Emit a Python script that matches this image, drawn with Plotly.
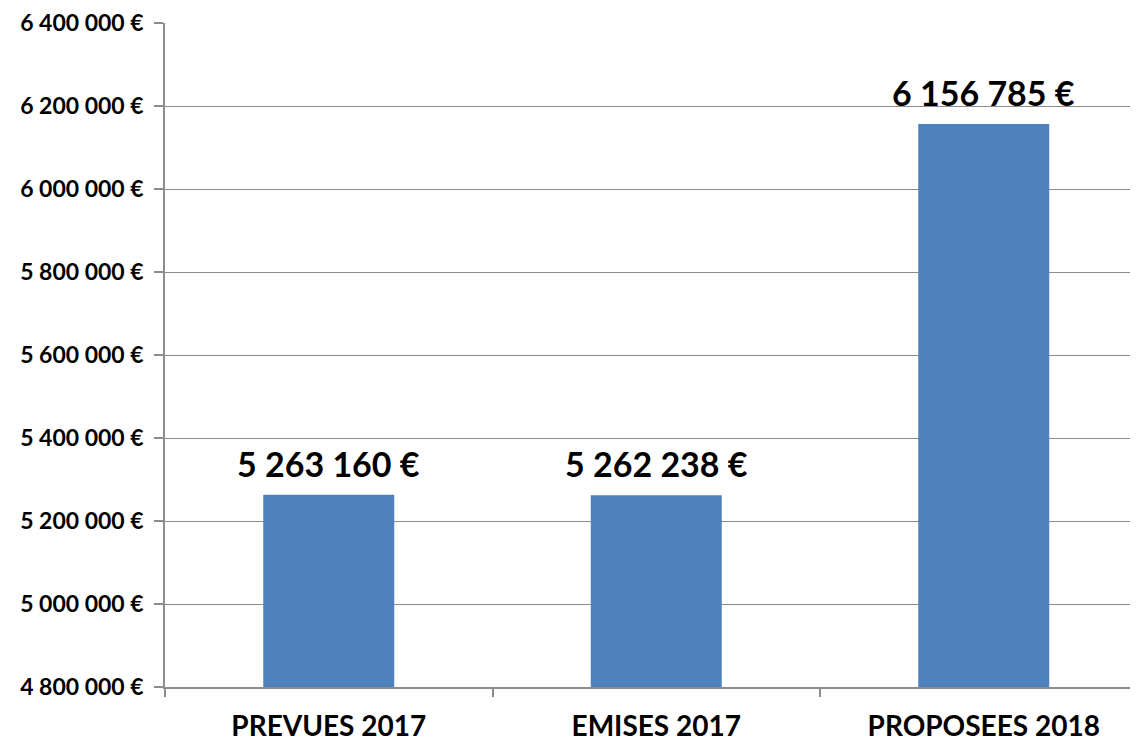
import plotly.graph_objects as go

categories = ["PREVUES 2017", "EMISES 2017", "PROPOSEES 2018"]
values = [5263160, 5262238, 6156785]
y_ticks = [4800000, 5000000, 5200000, 5400000, 5600000, 5800000, 6000000, 6200000, 6400000]

def fmt(v):
    return f"{v:,}".replace(",", " ") + " €"

FONT = "Lato, Carlito, 'Liberation Sans', sans-serif"
BAR = "#4F81BD"
GRID = "#8C8C8C"

fig = go.Figure(go.Bar(
    x=categories, y=values, width=0.4,
    marker=dict(color=BAR, line=dict(width=0)),
    hovertemplate="%{x}: %{y}<extra></extra>",
))

for c, v in zip(categories, values):
    fig.add_annotation(
        x=c, y=v, text=fmt(v), showarrow=False, yanchor="bottom", yshift=9,
        font=dict(family=FONT, size=34, color="black", weight="bold"),
    )

# page body has an 8px default margin, so the figure is shifted by 8px
fig.update_layout(
    width=1130, height=734,
    margin=dict(l=157, r=0, t=15, b=50),
    plot_bgcolor="white", paper_bgcolor="white",
    showlegend=False,
    font=dict(family=FONT, color="black"),
)
fig.update_xaxes(
    range=[-0.5, 2.471], showline=True, linecolor=GRID, linewidth=1.5,
    ticks="outside", tickson="boundaries", ticklen=8, tickcolor=GRID, tickwidth=1.5,
    tickfont=dict(family=FONT, size=28, color="black", weight="bold"),
    ticklabelstandoff=14, showgrid=False,
)
fig.update_yaxes(
    range=[4800000, 6400000], tickvals=y_ticks, ticktext=[fmt(v) for v in y_ticks],
    showline=True, linecolor=GRID, linewidth=1.5,
    ticks="outside", ticklen=9, tickcolor=GRID, tickwidth=1.5,
    showgrid=True, gridcolor=GRID, gridwidth=1.3,
    tickfont=dict(family=FONT, size=23, color="black", weight="bold"),
    ticklabelstandoff=6, zeroline=False,
)

fig.write_html("out.html")
